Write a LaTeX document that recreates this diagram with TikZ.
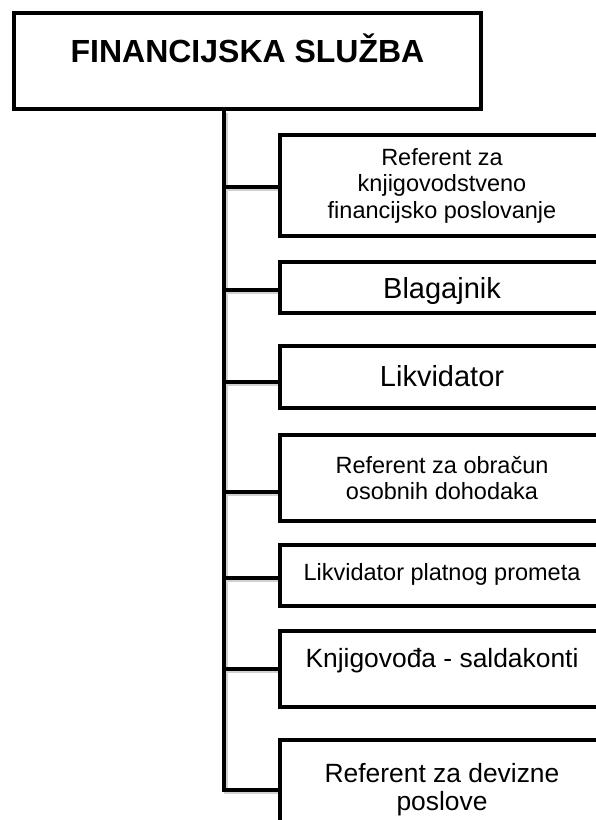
\documentclass[tikz,border=0pt]{standalone}
\usepackage{fontspec}
\setmainfont{Liberation Sans}
\usetikzlibrary{backgrounds}
\begin{document}
\begin{tikzpicture}[x=1pt,y=-1pt,
  box/.style={draw,line width=3.5pt,inner sep=0pt,align=center,
    minimum width=324pt},
  small/.style={font=\fontsize{23.5}{26.5}\selectfont},
  big/.style={font=\fontsize{29}{33}\selectfont},
  mid/.style={font=\fontsize{26.4}{28}\selectfont},
  link/.style={line width=3.5pt,
    preaction={draw=black!18,line width=4pt,transform canvas={shift={(1.5pt,-2pt)}}}}]
\useasboundingbox (0,0) rectangle (596,820);
\clip (0,0) rectangle (596,820);

\node[draw,line width=3.5pt,inner sep=0pt,minimum width=467pt,minimum height=96pt,
  font=\fontsize{32}{36}\selectfont\bfseries,text height=23pt,text depth=21pt]
  (sluzba) at (247.5,61) {FINANCIJSKA SLUŽBA};

\node[box,small,minimum height=101pt] (knjig) at (442,185.5)
  {Referent za\\knjigovodstveno\\financijsko poslovanje};
\node[box,big,minimum height=51pt,text height=21pt,text depth=0pt] (blag) at (442,287.5) {Blagajnik};
\node[box,big,minimum height=62pt,text height=21pt,text depth=2pt] (likv) at (442,377) {Likvidator};
\node[box,small,minimum height=86pt] (obrac) at (442,478)
  {Referent za obračun\\osobnih dohodaka};
\node[box,small,minimum height=61pt,text height=17pt,text depth=8pt] (platni) at (442,575.5)
  {Likvidator platnog prometa};
\node[box,mid,minimum height=76pt,text height=19pt,text depth=23pt] (saldo) at (442,669)
  {Knjigovođa - saldakonti};
\node[box,mid,minimum height=100pt] (devize) at (442,790)
  {Referent za devizne\\poslove};

\begin{pgfonlayer}{background}
% okomita linija
\coordinate (dno) at (224,790);
\draw[link] (sluzba.south -| dno) -- (dno) -- (devize.west);

% grane
\draw[link] (224,187) -- (knjig.west |- 0,187);
\draw[link] (224,290) -- (blag.west |- 0,290);
\draw[link] (224,382) -- (likv.west |- 0,382);
\draw[link] (224,492) -- (obrac.west |- 0,492);
\draw[link] (224,578) -- (platni.west |- 0,578);
\draw[link] (224,669) -- (saldo.west);
\end{pgfonlayer}
\end{tikzpicture}
\end{document}
